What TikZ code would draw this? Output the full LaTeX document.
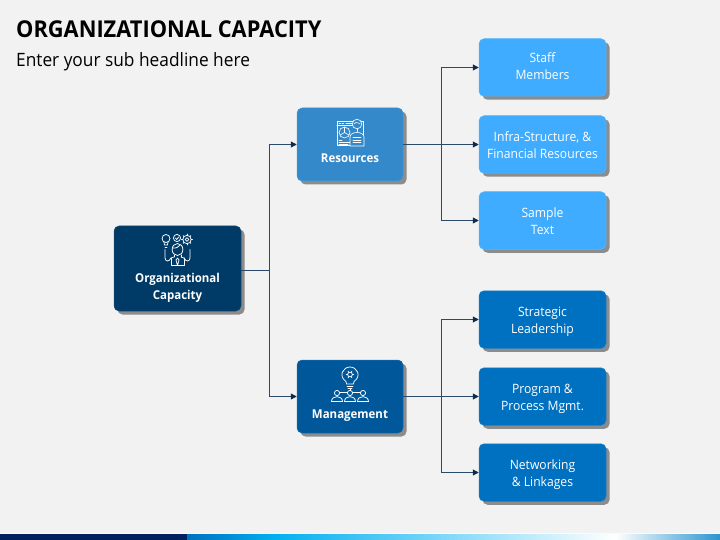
\documentclass[tikz,border=0pt]{standalone}
\usepackage{fontspec}
\setmainfont[FakeStretch=0.94]{Open Sans}
\usetikzlibrary{shadows,arrows.meta}
\definecolor{bgc}{HTML}{F2F2F2}
\definecolor{rootc}{HTML}{003A66}
\definecolor{resc}{HTML}{3389CA}
\definecolor{mgtc}{HTML}{00589B}
\definecolor{lightc}{HTML}{3FACFF}
\definecolor{darkc}{HTML}{0070C0}
\definecolor{linec}{HTML}{2A4A6B}
\definecolor{tipc}{HTML}{0F2A4A}
\definecolor{navyc}{HTML}{002060}
\definecolor{barb}{HTML}{00B0F0}
\definecolor{barc}{HTML}{2A94D0}
\tikzset{
  x=1pt,y=-1pt,
  cardbox/.style={rounded corners=5pt,fill=#1,draw=white!12!#1,line width=.5pt,inner sep=0pt,
    general shadow={fill=black!45,shadow xshift=3.5pt,shadow yshift=-3.5pt}},
  rootbox/.style={cardbox=rootc,minimum width=127pt,minimum height=85pt},
  midbox/.style={cardbox=#1,minimum width=106pt,minimum height=73pt},
  leafbox/.style={cardbox=#1,minimum width=127pt,minimum height=57.5pt},
  leaflabel/.style={text=white,font=\fontsize{12.9}{17}\selectfont,align=center,inner sep=0pt},
  headlabel/.style={text=white,font=\bfseries\fontsize{12.2}{17}\selectfont,align=center,inner sep=0pt},
  conn/.style={draw=linec,line width=1pt},
  connarrow/.style={conn,-{Triangle[length=6pt,width=6pt,color=tipc]}},
  ico/.style={draw=white,line width=.75pt,fill=none,line cap=round,line join=round}
}
\begin{document}
\begin{tikzpicture}
\useasboundingbox (0,0) rectangle (720,540);
\fill[bgc] (0,0) rectangle (720,540);
% bottom band
\fill[white!70!bgc] (0,533) rectangle (720,534);
\fill[navyc] (0,534) rectangle (187,540);
\shade[left color=darkc,right color=barb] (187,534) rectangle (275,540);
\shade[left color=barb,right color=white] (275,534) rectangle (615,540);
\shade[left color=white,right color=barc] (615,534) rectangle (720,540);
% titles
\node[anchor=base west,inner sep=0pt,font=\bfseries\fontsize{23.2}{28}\selectfont] (title) at (16,37.5) {ORGANIZATIONAL CAPACITY};
\node[anchor=base west,inner sep=0pt,font=\fontsize{18.4}{22}\selectfont] (sub) at (16,66.5) {Enter your sub headline here};
% boxes
\node[rootbox] (root) at (177.5,268.5) {};
\node[midbox=resc] (res) at (350,144.5) {};
\node[midbox=mgtc] (mgt) at (350,396.5) {};
\node[leafbox=lightc] (l1) at (542.5,67.5) {};
\node[leafbox=lightc] (l2) at (542.5,144.5) {};
\node[leafbox=lightc] (l3) at (542.5,220.5) {};
\node[leafbox=darkc] (l4) at (542.5,319.5) {};
\node[leafbox=darkc] (l5) at (542.5,396.5) {};
\node[leafbox=darkc] (l6) at (542.5,472.5) {};
% leaf labels
\node[leaflabel] (t1) at (542.5,66.5) {Staff\\Members};
\node[leaflabel] (t2) at (542.5,145.5) {Infra-Structure, \&\\Financial Resources};
\node[leaflabel] (t3) at (542.5,221.5) {Sample\\Text};
\node[leaflabel] (t4) at (542.5,321.5) {Strategic\\Leadership};
\node[leaflabel] (t5) at (542.5,398.5) {Program \&\\Process Mgmt.};
\node[leaflabel] (t6) at (542.5,474.5) {Networking\\\& Linkages};
% head labels
\node[headlabel] (rootlab) at (177.5,288) {Organizational\\Capacity};
\node[headlabel] (reslab) at (350,158.5) {Resources};
\node[headlabel] (mgtlab) at (350,416) {Management};
% connectors
\coordinate (jroot) at (269,270);
\coordinate (jres) at (441,144.5);
\coordinate (jmgt) at (441,396.5);
\draw[conn] (root.east |- jroot) -- (jroot);
\draw[connarrow] (jroot) |- (res.west);
\draw[connarrow] (jroot) |- (mgt.west);
\draw[conn] (res.east) -- (jres);
\draw[connarrow] (jres) |- (l1.west);
\draw[connarrow] (jres) -- (l2.west);
\draw[connarrow] (jres) |- (l3.west);
\draw[conn] (mgt.east) -- (jmgt);
\draw[connarrow] (jmgt) |- (l4.west);
\draw[connarrow] (jmgt) -- (l5.west);
\draw[connarrow] (jmgt) |- (l6.west);
% root icon
\begin{scope}[ico]
 \draw (166,238.5) circle (4); \draw (164,242)--(164.5,245)--(167.5,245)--(168,242); \draw (165,247)--(167,247);
 \draw (177,238) circle (3.6); \draw (175.5,238)--(176.7,239.5)--(178.7,237);
 \draw (187,239.5) circle (4.2); \draw (187,239.5) circle (1.8);
 \foreach \a in {0,45,...,315} \draw (187,239.5)++(\a:4.2)--++(\a:1.3);
 \draw (177.5,249.5) ellipse (5.4 and 6);
 \draw (172.5,248) .. controls (176,248.5) and (179,247) .. (180,245);
 \draw (174,255)--(174,257) (181,255)--(181,257);
 \draw (165,249.5)--(165,258) .. controls (165.5,262) and (169,262) .. (171,258);
 \draw (190,249.5)--(190,258) .. controls (189.5,262) and (186,262) .. (184,258);
 \draw (171,258)--(171,265.5)--(184,265.5)--(184,258);
 \draw (174,257)--(171,258) (181,257)--(184,258);
 \draw (177.5,258)--(176,260)--(177.5,265.5)--(179,260)--cycle;
\end{scope}
% resources icon
\begin{scope}[ico,line width=.6pt]
 \draw (337,121) rectangle (363.5,145.5);
 \draw (337,125)--(358,125);
 \draw (339,123)--(340.5,123) (342,123)--(343.5,123) (346,123)--(352,123);
 \draw (344.5,132.5) circle (5.5);
 \draw (344.5,132.5)--(344.5,127) (344.5,132.5)--(339.8,135.2) (344.5,132.5)--(349.2,135.2);
 \draw (339,140)--(342,140) (339,142)--(350,142) (339,144)--(348,144);
 \draw[fill=resc] (357,124) circle (4.8);
 \draw (354,124)--(356,122.5)--(360,123.5);
 \draw[fill=resc] (350,137) .. controls (350,131) and (364,131) .. (364,137) -- (364,146) -- (350,146) -- cycle;
 \draw (353,137.5)--(361,137.5) (353,140)--(361,140) (353,142.5)--(361,142.5);
 \draw (357,129)--(357,131.5);
\end{scope}
% management icon
\begin{scope}[ico]
 \draw (346.5,384)--(346,381.5) .. controls (338,376) and (343,367) .. (350,367) .. controls (357,367) and (362,376) .. (354,381.5) -- (353.5,384) -- cycle;
 \draw (347,386.5)--(353,386.5) (348,388.5)--(352,388.5);
 \draw (350,374.5) circle (2.4);
 \foreach \a in {0,60,...,300} \draw (350,374.5)++(\a:2.4)--++(\a:1.4);
 \foreach \x in {337,350,363}{
   \draw (\x,393) circle (2.6);
   \draw (\x-5.5,401.5) .. controls (\x-5.5,395) and (\x+5.5,395) .. (\x+5.5,401.5) -- cycle;
 }
 \draw (339.6,392)--(347.4,392) (352.6,392)--(360.4,392) (350,389)--(350,390.4);
\end{scope}
\end{tikzpicture}
\end{document}
